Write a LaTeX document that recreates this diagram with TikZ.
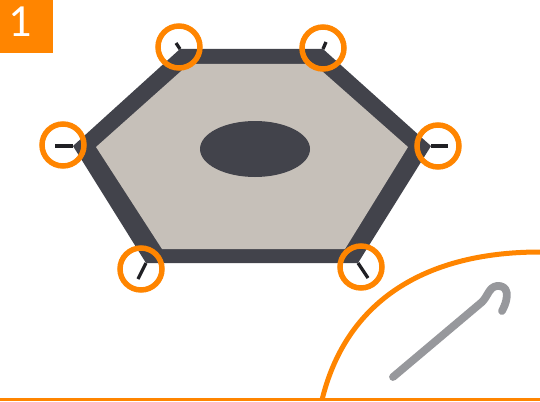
\documentclass[tikz,border=0pt]{standalone}
\usepackage{fontspec}
\setmainfont{Carlito}
\usetikzlibrary{positioning,calc}
\definecolor{padorange}{RGB}{255,133,0}
\definecolor{paddark}{RGB}{66,67,75}
\definecolor{padfill}{RGB}{198,192,185}
\definecolor{pinblack}{RGB}{32,32,36}
\definecolor{hookgrey}{RGB}{151,152,156}
\begin{document}
\begin{tikzpicture}[
    x=1pt, y=-1pt,
    badge/.style={fill=padorange, text=white, inner sep=0pt, minimum size=53pt},
    spoke/.style={pinblack, line width=3.3pt},
    ring/.style={draw=padorange, line width=5.5pt, circle, inner sep=0pt, minimum size=42pt},
    edgeline/.style={padorange, line width=5pt},
    hook/.style={hookgrey, line width=7.8pt, line cap=round, line join=round}
]
\useasboundingbox (0,0) rectangle (540,401);

% Hexagon
\coordinate (ol) at (73,146);
\coordinate (otl) at (180,49);
\coordinate (otr) at (323,49);
\coordinate (or) at (431,146);
\coordinate (obr) at (358,263);
\coordinate (obl) at (146,263);
\fill[paddark] (ol) -- (otl) -- (otr) -- (or) -- (obr) -- (obl) -- cycle;
\fill[padfill] (96,147) -- (189,64) -- (314,64) -- (408,147) -- (345,249) -- (162,249) -- cycle;
\fill[paddark] (255,149) ellipse [x radius=55, y radius=28];

% Spokes and rings
\foreach \c/\ex/\ey/\rx/\ry in {ol/55/146/63/145, otl/176/43/179/47, otr/326/42/323/48, or/448/146/438/146, obr/368/278/361/267, obl/138/279/141/269} {
  \coordinate (\c end) at (\ex,\ey);
  \draw[spoke] (\c) -- (\c end);
  \node[ring] (\c ring) at (\rx,\ry) {};
}

% Badge
\node[badge] (badge) at (26.5,26.5) {};
\node[text=white, inner sep=0pt, font=\fontsize{46}{46}\selectfont] (num) at (20,21.5) {1};

% Ground and edge
\draw[padorange, line width=2.8pt] (0,399.8) -- (540,399.8);
\draw[edgeline] (322,400) .. controls (345,305) and (420,252) .. (540,252);

% Hook
\draw[hook] (393,377) -- (482,302) .. controls (488,296) and (489,287) .. (497,286) .. controls (508,285) and (510,296) .. (502,311);
\end{tikzpicture}
\end{document}
